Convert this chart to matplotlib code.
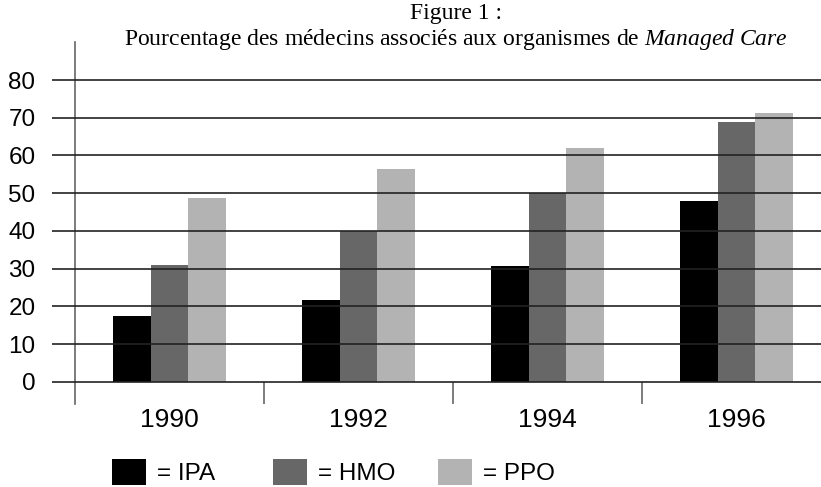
import numpy as np
import matplotlib
matplotlib.use('Agg')
import matplotlib.pyplot as plt
from matplotlib.patches import Patch

years = ['1990', '1992', '1994', '1996']
ipa = [17.3, 21.8, 30.6, 47.8]
hmo = [31.0, 40.1, 50.1, 68.9]
ppo = [48.6, 56.5, 62.1, 71.3]
series_names = ['= IPA', '= HMO', '= PPO']
colors = ['#000000', '#676767', '#b3b3b3']

plt.rcParams['font.family'] = ['Liberation Sans', 'DejaVu Sans']
plt.rcParams['mathtext.fontset'] = 'custom'
plt.rcParams['mathtext.rm'] = 'Liberation Serif'
plt.rcParams['mathtext.it'] = 'Liberation Serif:italic'

W, H = 821, 487
fig = plt.figure(figsize=(W / 100, H / 100), dpi=100)
ax = fig.add_axes([75 / W, (H - 404) / H, 756 / W, 361.7 / H])

x = np.arange(len(years))
bw = 0.2
for i, (vals, c) in enumerate(zip([ipa, hmo, ppo], colors)):
    ax.bar(x + (i - 1) * bw, vals, bw, color=c, zorder=2, linewidth=0)

ax.set_xlim(-0.5, 3.5)
ax.set_ylim(-5.9, 90)
ax.set_yticks(np.arange(0, 81, 10))
ax.yaxis.grid(True, color='#222222', linewidth=1.2, zorder=3)
ax.set_axisbelow(False)
ax.tick_params(axis='y', length=16.5, width=1.2, color='#222222', pad=12, labelsize=17.5)
ax.set_xticks(x)
ax.set_xticklabels(years)
ax.tick_params(axis='x', length=0, pad=3, labelsize=19)

for s in ['top', 'right', 'bottom']:
    ax.spines[s].set_visible(False)
ax.spines['left'].set_color('#666666')
ax.spines['left'].set_linewidth(1.2)
ax.vlines(x[1:] - 0.5, -5.9, 0, color='#666666', linewidth=1.2, zorder=1)

fig.text(456 / W, 1 - 14 / H, 'Figure 1 :', ha='center', va='center',
         fontsize=17, family='Liberation Serif')
fig.text(456 / W, 1 - 40 / H,
         r'Pourcentage des médecins associés aux organismes de $Managed\ Care$',
         ha='center', va='center', fontsize=17, family='Liberation Serif')

# one legend entry per slot, as in the original layout
slots = [112, 273, 438]
for name, c, sx in zip(series_names, colors, slots):
    fig.legend([Patch(facecolor=c, edgecolor='none')], [name], frameon=False,
               fontsize=17.5, loc='center left', borderpad=0, borderaxespad=0,
               bbox_to_anchor=(sx / W, 1 - 472 / H),
               handlelength=1.4, handleheight=1.3, handletextpad=0.45)

fig.savefig('out.png', dpi=100)
